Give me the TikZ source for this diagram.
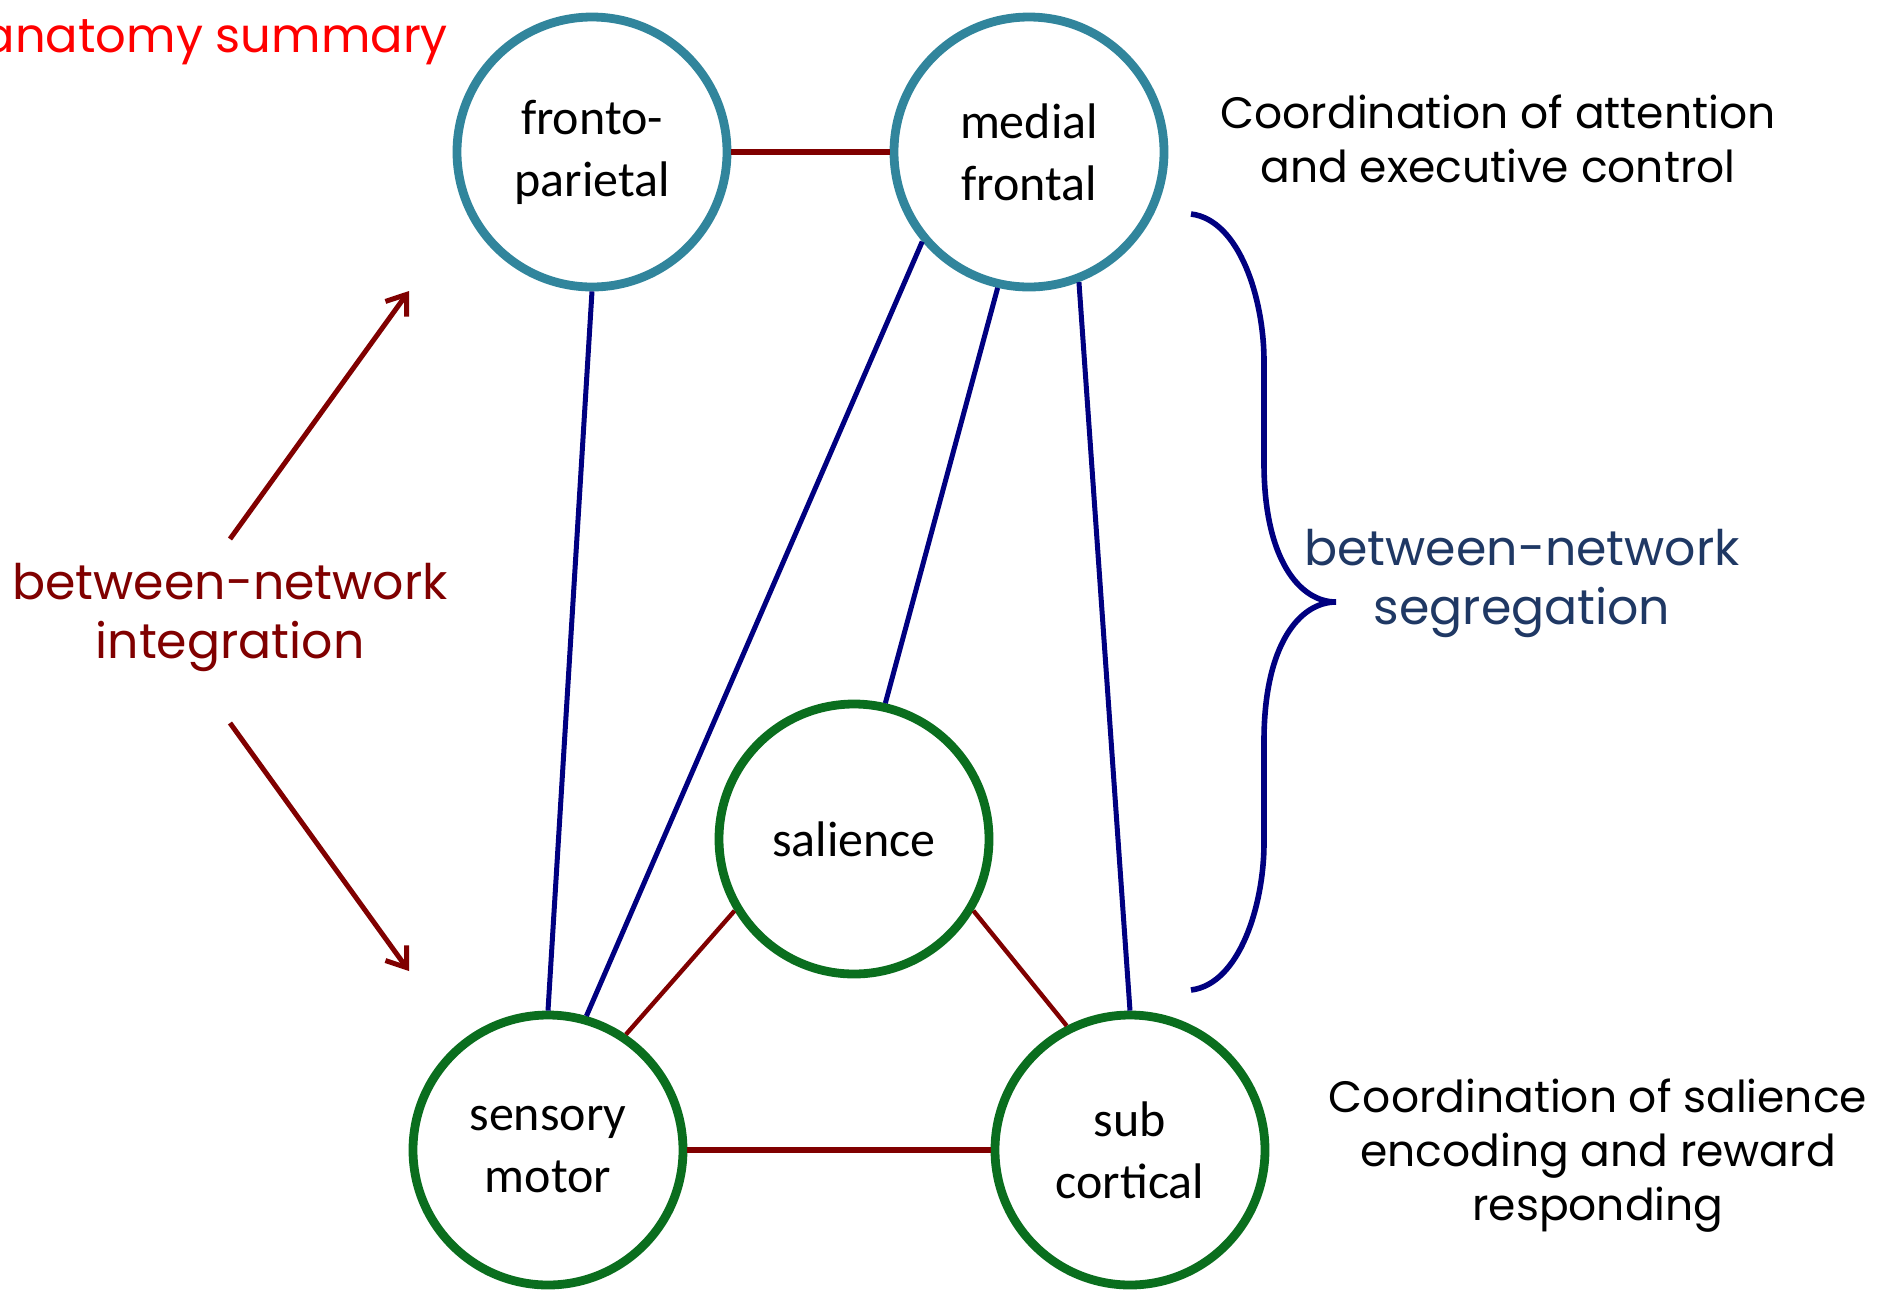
\documentclass[tikz,border=0pt]{standalone}
\usepackage{fontspec}
\setmainfont{Carlito}
\newfontfamily\gothic{Poppins}
\usetikzlibrary{arrows.meta}

\definecolor{netteal}{RGB}{49,133,156}
\definecolor{netgreen}{RGB}{10,110,30}
\definecolor{linkred}{RGB}{128,0,0}
\definecolor{linkblue}{RGB}{0,0,128}
\definecolor{segblue}{RGB}{31,56,100}
\definecolor{intred}{RGB}{128,0,0}

\begin{document}
\begin{tikzpicture}[x=0.5pt,y=-0.5pt,
  net/.style={circle,draw,line width=4.4pt,minimum size=135pt,inner sep=0pt,
    align=center,font=\fontsize{25}{31}\selectfont},
  topnet/.style={net,draw=netteal},
  lownet/.style={net,draw=netgreen},
  redlink/.style={draw=linkred,line width=2.7pt},
  bluelink/.style={draw=linkblue,line width=2.5pt},
  intarrow/.style={draw=intred,line width=2.5pt,-{Straight Barb[length=9pt,width=13pt]}},
  brace/.style={draw=linkblue,line width=2.8pt},
  note/.style={align=center,font=\gothic\fontsize{22}{27}\selectfont},
  biglabel/.style={align=center,font=\gothic\fontsize{24.5}{29.5}\selectfont}]

\useasboundingbox (0,0) rectangle (1887,1292);

% networks
\node[topnet] (fp) at (592,152) {fronto-\\parietal};
\node[topnet] (mf) at (1029,152) {medial\\frontal};
\node[lownet] (sal) at (854,839) {salience};
\node[lownet] (sm) at (548,1150) {sensory\\motor};
\node[lownet] (sc) at (1130,1150) {sub\\cortical};

% integration links
\draw[redlink] (fp.east) -- (mf.west);
\draw[redlink,line width=2.2pt] (sal.211) -- (sm.56);
\draw[redlink,line width=2.2pt] (sal.-31) -- (sc.117);
\draw[redlink] (sm.east) -- (sc.west);

% segregation links
\draw[bluelink] (fp.south) -- (sm.north);
\draw[bluelink] (mf.220) -- (sm.74);
\draw[bluelink] (mf.257) -- (sal.77);
\draw[bluelink] (mf.291) -- (sc.north);

% titles and notes
\node[anchor=base east,text=red,font=\gothic\fontsize{24}{29}\selectfont] (title) at (455,52) {anatomy summary};
\node[note] (ctrl) at (1498,139) {Coordination of attention\\and executive control};
\node[note] (rew) at (1598,1156) {Coordination of salience\\encoding and reward\\responding};

% between-network integration
\node[biglabel,text=intred] (integ) at (230,617) {between-network\\integration};
\coordinate (ua) at (230,539);
\coordinate (ub) at (409,291);
\coordinate (la) at (230,723);
\coordinate (lb) at (409,971);
\draw[intarrow] (ua) -- (ub);
\draw[intarrow] (la) -- (lb);

% between-network segregation
\node[biglabel,text=segblue] (segr) at (1522,583) {between-network\\segregation};
\coordinate (bt) at (1191,214);
\coordinate (btip) at (1336,602);
\coordinate (bb) at (1191,990);
\draw[brace] (bt) .. controls (1240,220) and (1264,300) .. (1264,361)
  -- (1264,463) .. controls (1264,560) and (1300,602) .. (btip)
  .. controls (1300,602) and (1264,644) .. (1264,741)
  -- (1264,843) .. controls (1264,904) and (1240,984) .. (bb);
\end{tikzpicture}
\end{document}
